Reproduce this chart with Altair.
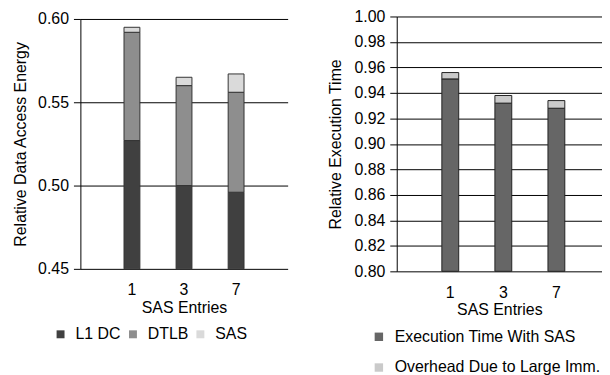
import altair as alt
import pandas as pd

# ---- data ----
entries = ["1", "3", "7"]
l1dc = [0.527, 0.500, 0.496]
dtlb = [0.065, 0.060, 0.060]
sas = [0.003, 0.005, 0.011]

exec_time = [0.951, 0.932, 0.928]
overhead = [0.005, 0.006, 0.006]

energy_series = ["L1 DC", "DTLB", "SAS"]
energy_colors = ["#404040", "#8e8e8e", "#dadada"]
time_series = ["Execution Time With SAS", "Overhead Due to Large Imm."]
time_colors = ["#666666", "#cacaca"]

energy_ticks = [0.45, 0.50, 0.55, 0.60]
time_ticks = [0.80, 0.82, 0.84, 0.86, 0.88, 0.90, 0.92, 0.94, 0.96, 0.98, 1.00]

rows = []
for i, e in enumerate(entries):
    for k, (name, vals) in enumerate(zip(energy_series, [l1dc, dtlb, sas])):
        rows.append({"entries": e, "series": name, "value": vals[i], "order": k})
df_energy = pd.DataFrame(rows)

rows = []
for i, e in enumerate(entries):
    for k, (name, vals) in enumerate(zip(time_series, [exec_time, overhead])):
        rows.append({"entries": e, "series": name, "value": vals[i], "order": k})
df_time = pd.DataFrame(rows)

FONT = "Liberation Sans"

left = alt.Chart(df_energy).mark_bar(width=16, stroke="#333333", strokeWidth=1).encode(
    x=alt.X("entries:N", sort=entries, title="SAS Entries",
            scale=alt.Scale(paddingInner=0, paddingOuter=0.49, align=0.5),
            axis=alt.Axis(labelAngle=0, ticks=False, domain=False, grid=False,
                          labelPadding=13, titlePadding=2)),
    y=alt.Y("value:Q", stack="zero", title="Relative Data Access Energy",
            scale=alt.Scale(domain=[0.45, 0.60], clamp=True, nice=False, zero=False),
            axis=alt.Axis(values=energy_ticks, format=".2f", tickSize=7,
                          labelPadding=5, titlePadding=9)),
    color=alt.Color("series:N", sort=energy_series,
                    scale=alt.Scale(domain=energy_series, range=energy_colors),
                    legend=alt.Legend(title=None, orient="none", direction="horizontal",
                                      legendX=-28, legendY=310, symbolType="square",
                                      symbolSize=64, symbolStrokeWidth=0,
                                      labelOffset=7, columnPadding=4)),
    order=alt.Order("order:Q"),
).properties(width=209, height=252)

right = alt.Chart(df_time).mark_bar(width=17, stroke="#222222", strokeWidth=1).encode(
    x=alt.X("entries:N", sort=entries, title="SAS Entries",
            scale=alt.Scale(paddingInner=0, paddingOuter=0.4346, align=0.586),
            axis=alt.Axis(labelAngle=0, ticks=False, domain=False, grid=False,
                          labelPadding=13, titlePadding=2)),
    y=alt.Y("value:Q", stack="zero", title="Relative Execution Time",
            scale=alt.Scale(domain=[0.80, 1.00], clamp=True, nice=False, zero=False),
            axis=alt.Axis(values=time_ticks, format=".2f", tickSize=7,
                          labelPadding=5, titlePadding=11)),
    color=alt.Color("series:N", sort=time_series,
                    scale=alt.Scale(domain=time_series, range=time_colors),
                    legend=alt.Legend(title=None, orient="none", direction="vertical",
                                      legendX=-26, legendY=315, symbolType="square",
                                      symbolSize=72, symbolStrokeWidth=0,
                                      labelOffset=8, rowPadding=15)),
    order=alt.Order("order:Q"),
).properties(width=207, height=257)

chart = alt.hconcat(left, right, spacing=110, bounds="flush", center=True).resolve_scale(
    color="independent", y="independent", x="independent"
).properties(
    padding={"left": 4, "top": -1, "right": 0, "bottom": 0}
).configure_view(stroke=None).configure_axis(
    labelFont=FONT, titleFont=FONT, labelFontSize=16, titleFontSize=16,
    titleFontWeight="normal", labelColor="#000000", titleColor="#000000",
    gridColor="#000000", gridWidth=1, gridOpacity=1, domainColor="#000000",
    tickColor="#000000", domainWidth=1, tickWidth=1,
).configure_legend(
    labelFont=FONT, labelFontSize=16, labelColor="#000000", labelLimit=400,
)

chart.save("out.html", embed_options={"renderer": "svg", "actions": False})
